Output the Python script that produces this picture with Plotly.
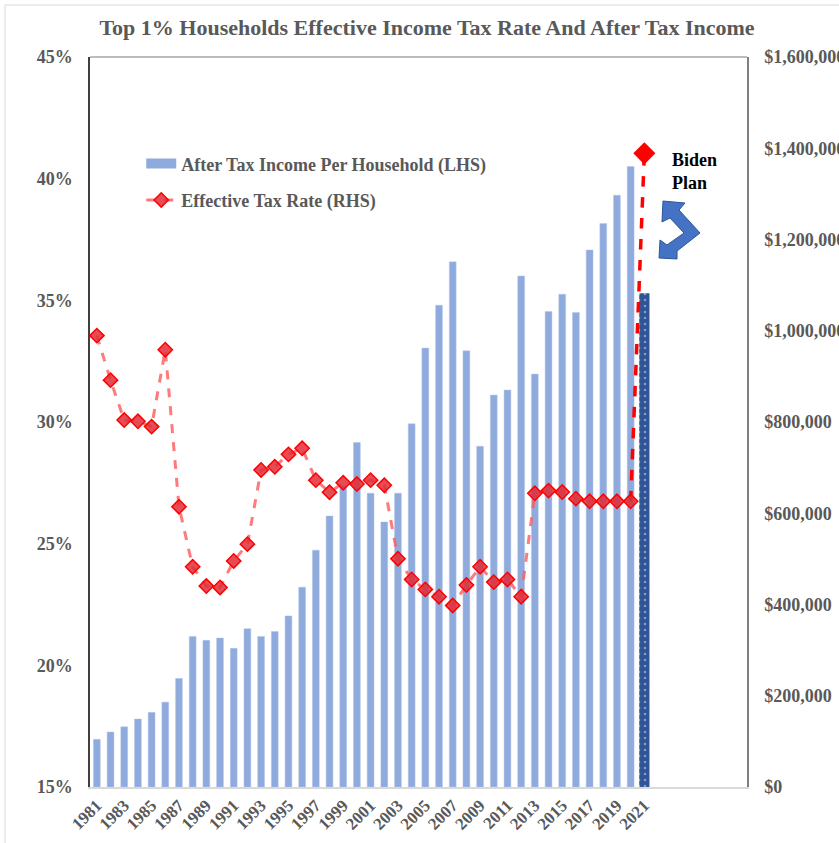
import plotly.graph_objects as go

# ---- data ----
years = list(range(1981, 2021))
income = [104500, 120500, 132000, 149000, 163700, 186000, 238000, 330000, 321500, 326600,
          304000, 347000, 330000, 341000, 375000, 438000, 519000, 594000, 660000, 755000,
          644000, 581000, 644000, 796000, 962000, 1056000, 1151000, 956000, 747000, 859000,
          870000, 1120000, 905000, 1042000, 1080000, 1040000, 1177000, 1235000, 1297000, 1360000]
tax_rate = [33.55, 31.72, 30.08, 30.03, 29.81, 32.97, 26.52, 24.05, 23.26, 23.20,
            24.29, 24.98, 28.03, 28.16, 28.67, 28.92, 27.61, 27.11, 27.50, 27.45,
            27.61, 27.40, 24.38, 23.53, 23.12, 22.82, 22.46, 23.30, 24.05, 23.42,
            23.53, 22.82, 27.07, 27.18, 27.12, 26.85, 26.74, 26.74, 26.74, 26.74]
plan_year = [2021]
plan_income = [1082000]
plan_rate = [41.04]
tick_years = list(range(1981, 2022, 2))
left_ticks = [15, 20, 25, 30, 35, 40, 45]
right_ticks = [0, 200000, 400000, 600000, 800000, 1000000, 1200000, 1400000, 1600000]

GRAY = "#595959"
FONT = "Liberation Serif"

fig = go.Figure()

fig.add_trace(go.Bar(
    x=years, y=income, name="After Tax Income Per Household (LHS)", showlegend=False,
    marker=dict(color="#8FAADC", line=dict(color="#B4C7E7", width=0.5)),
    width=0.5, yaxis="y",
))
fig.add_trace(go.Bar(
    x=plan_year, y=plan_income, name="plan", showlegend=False,
    marker=dict(color="#2F5597", line=dict(width=0),
                pattern=dict(shape=".", fgcolor="#D9E2F3", bgcolor="#2F5597", size=6, solidity=0.15)),
    width=0.75, yaxis="y",
))
# legend-only entry for the bars (wide swatch)
fig.add_trace(go.Scatter(
    x=[None], y=[None], mode="lines", name="After Tax Income Per Household (LHS)",
    line=dict(color="#8FAADC", width=10), yaxis="y", legendgroup="a",
))
fig.add_trace(go.Scatter(
    x=[years[-1], plan_year[0]], y=[tax_rate[-1], plan_rate[0]], mode="lines",
    line=dict(color="#FF0000", width=3.5, dash="dash"),
    showlegend=False, yaxis="y2",
))
fig.add_trace(go.Scatter(
    x=years, y=tax_rate, name="Effective Tax Rate (RHS)", mode="lines+markers",
    line=dict(color="rgba(255,90,90,0.8)", width=3, dash="dash"),
    marker=dict(symbol="diamond", size=11, color="rgba(225,45,55,0.85)",
                line=dict(color="#FF0000", width=1.5)),
    yaxis="y2", legendgroup="b",
))
fig.add_trace(go.Scatter(
    x=plan_year, y=plan_rate, mode="markers", showlegend=False,
    marker=dict(symbol="diamond", size=17, color="#FF0000"),
    yaxis="y2",
))

# plot area in pixels: x 90..747, y 57..787
L, R, T, B = 90, 747, 57, 787
def px(x, y):
    return (x - L) / (R - L), (B - y) / (B - T)

arrow_px = [(663, 201), (685, 203), (679, 210), (700, 233), (677, 251), (677, 259),
            (659, 258), (660, 240), (667, 245), (684, 233), (670, 218), (662, 222)]
pts = [px(a, b) for a, b in arrow_px]
path = "M " + " L ".join(f"{a:.4f},{b:.4f}" for a, b in pts) + " Z"

bx0, by0 = px(5, 5)
bx1, by1 = px(860, 860)

fig.update_layout(
    width=839, height=843,
    margin=dict(l=L, r=839 - R, t=T, b=843 - B),
    paper_bgcolor="white", plot_bgcolor="white",
    font=dict(family=FONT, color=GRAY),
    title=dict(text="<b>Top 1% Households Effective Income Tax Rate And After Tax Income</b>",
               x=427 / 839, xref="container", xanchor="center", y=1 - 27 / 843, yanchor="middle",
               font=dict(family=FONT, size=22, color=GRAY)),
    bargap=0.5,
    xaxis=dict(range=[1980.5, 2028.5], tickvals=tick_years, ticktext=[str(y) for y in tick_years],
               tickangle=-45, tickfont=dict(family=FONT, size=17, color=GRAY, weight="bold"),
               showline=True, linecolor="#D9D9D9", linewidth=1.5, showgrid=False, zeroline=False,
               ticks="", automargin=False),
    yaxis=dict(side="right", range=[0, 1600000], tickvals=right_ticks,
               ticktext=["$0" if v == 0 else f"${v:,}" for v in right_ticks],
               tickfont=dict(family=FONT, size=18, color=GRAY, weight="bold"),
               showline=True, linecolor="#7F7F7F", linewidth=1.5, showgrid=False, zeroline=False,
               ticks="", ticklabelstandoff=12, automargin=False),
    yaxis2=dict(side="left", overlaying="y", range=[15, 45], tickvals=left_ticks,
                ticktext=[f"{v}%" for v in left_ticks],
                tickfont=dict(family=FONT, size=18, color=GRAY, weight="bold"),
                showline=True, linecolor="#404040", linewidth=1.5, showgrid=False, zeroline=False,
                ticks="", ticklabelstandoff=12, automargin=False),
    legend=dict(x=0.078, y=0.879, xanchor="left", yanchor="top", bgcolor="rgba(0,0,0,0)",
                font=dict(family=FONT, size=18, color=GRAY, weight="bold"),
                traceorder="grouped", tracegroupgap=10, itemwidth=30),
    showlegend=True,
    shapes=[
        dict(type="line", xref="paper", yref="paper", x0=0, x1=1, y0=1, y1=1,
             line=dict(color="#A6A6A6", width=1.5)),
        dict(type="path", xref="paper", yref="paper", path=path,
             fillcolor="#4472C4", line=dict(color="#2F5597", width=1)),
        dict(type="rect", xref="paper", yref="paper", x0=bx0, x1=bx1, y0=by1, y1=by0,
             line=dict(color="#D9D9D9", width=1), layer="below"),
    ],
    annotations=[
        dict(text="<b>Biden<br>Plan</b>", xref="paper", yref="paper",
             x=px(670, 172)[0], y=px(670, 172)[1], xanchor="left", yanchor="middle",
             showarrow=False, font=dict(family=FONT, size=18, color="black"), align="left"),
    ],
)

fig.write_html("out.html")
